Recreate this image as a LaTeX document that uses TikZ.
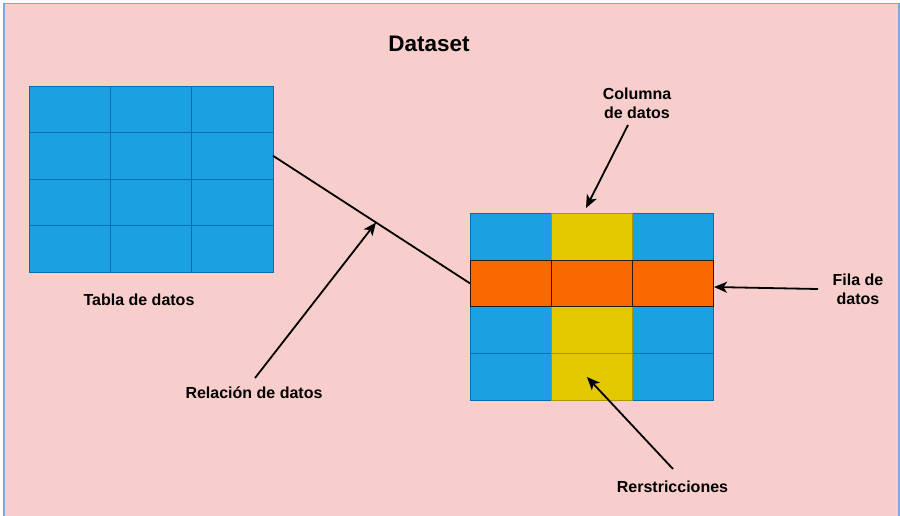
\documentclass[tikz,border=0pt]{standalone}
\usepackage{fontspec}
\setmainfont{Liberation Sans}
\usetikzlibrary{arrows.meta}
\definecolor{bgpink}{HTML}{F8CECC}
\definecolor{bgline}{HTML}{7EA6E0}
\definecolor{cblue}{HTML}{1BA1E2}
\definecolor{cbluel}{HTML}{006EAF}
\definecolor{cyel}{HTML}{E3C800}
\definecolor{cyell}{HTML}{B09500}
\definecolor{corg}{HTML}{FA6800}
\definecolor{corgl}{HTML}{2A1A10}
\tikzset{
  cell/.style={rectangle, inner sep=0pt, outer sep=0pt, line width=0.9pt},
  lcell/.style={cell, minimum width=81.33pt, minimum height=46.5pt, fill=cblue, draw=cbluel},
  rblue/.style={cell, minimum width=81.2pt, minimum height=46.7pt, fill=cblue, draw=cbluel},
  ryel/.style={cell, minimum width=81.2pt, minimum height=46.7pt, fill=cyel, draw=cyell},
  rorg/.style={cell, minimum width=81.2pt, minimum height=46.7pt, fill=corg, draw=corgl},
  lbl/.style={font=\bfseries\fontsize{16}{19}\selectfont, inner sep=0pt, align=center, text=black},
  ttl/.style={font=\bfseries\fontsize{22.5}{26}\selectfont, inner sep=0pt, text=black},
  arr/.style={line width=1.8pt, -{Stealth[length=13pt, width=11pt, inset=3.5pt]}},
  link/.style={line width=1.8pt}
}
\begin{document}
\begin{tikzpicture}[x=1pt, y=-1pt]
\useasboundingbox (0,0) rectangle (900,515);
\fill[white] (0,0) rectangle (900,515);
\draw[bgline, fill=bgpink, line width=1.5pt] (4,3.5) rectangle (899,530);

% left table
\foreach \r in {1,...,4}
  \foreach \c in {1,2,3}
    \node[lcell] (L-\r-\c) at ({29+(\c-0.5)*81.33}, {86+(\r-0.5)*46.5}) {};

% right table
\foreach \r in {1,3,4}
  \foreach \c in {1,3}
    \node[rblue] (R-\r-\c) at ({470+(\c-0.5)*81.2}, {213.3+(\r-0.5)*46.7}) {};
\foreach \r in {1,3,4}
  \node[ryel] (R-\r-2) at ({470+1.5*81.2}, {213.3+(\r-0.5)*46.7}) {};
\foreach \c in {1,2,3}
  \node[rorg] (R-2-\c) at ({470+(\c-0.5)*81.2}, {213.3+1.5*46.7}) {};

% texts
\node[ttl] (title) at (429,44) {Dataset};
\node[lbl] (tabla) at (139,300) {Tabla de datos};
\node[lbl] (rel) at (254,393) {Relación de datos};
\node[lbl] (col) at (637,103.5) {Columna\\de datos};
\node[lbl] (fila) at (858,289.5) {Fila de\\datos};
\node[lbl] (res) at (672.5,486.5) {Rerstricciones};

% relation line
\draw[link] (L-2-3.east) -- coordinate[pos=0.523] (relT) (R-2-1.west);

% arrow start/end points
\coordinate (relS) at (255,378);
\coordinate (colS) at (628,125);
\coordinate (colT) at (586,208);
\coordinate (filaS) at (818,289);
\coordinate (filaT) at (714,287);
\coordinate (resS) at (673,469);
\coordinate (resT) at (587,377);

\draw[arr] (relS) -- (relT);
\draw[arr] (colS) -- (colT);
\draw[arr] (filaS) -- (filaT);
\draw[arr] (resS) -- (resT);
\end{tikzpicture}
\end{document}
